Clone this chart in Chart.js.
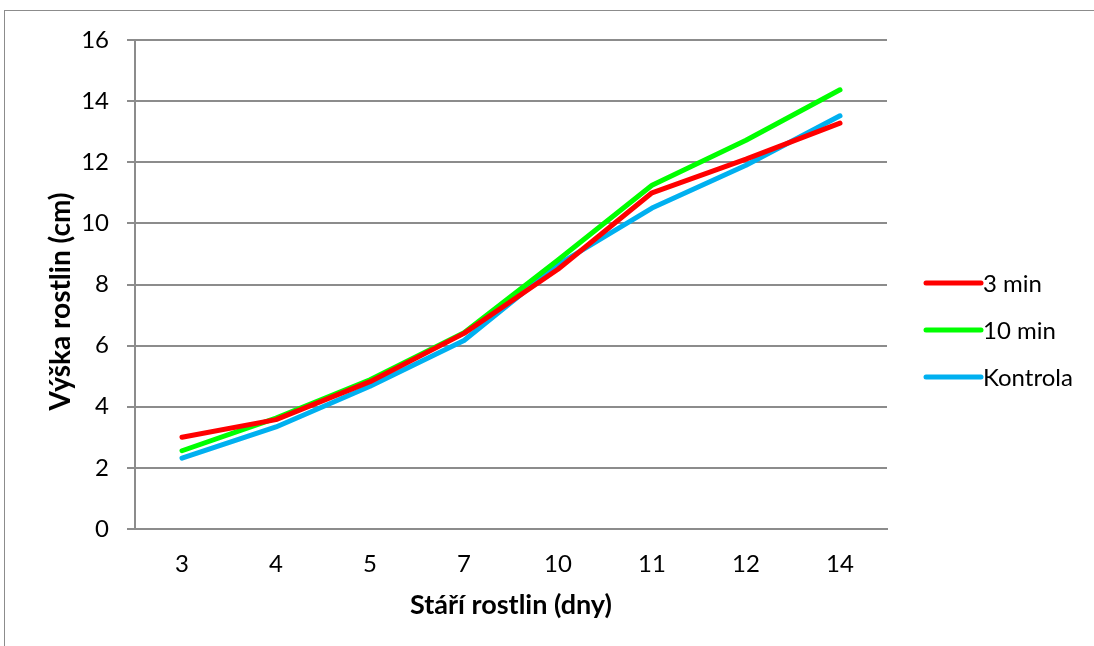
<!DOCTYPE html>
<html>
<head>
<meta charset="utf-8">
<script src="https://cdn.jsdelivr.net/npm/chart.js@4.4.1/dist/chart.umd.min.js"></script>
<style>
  html, body { margin: 0; padding: 0; background: #fff; }
  #wrap { position: relative; width: 1094px; height: 646px; overflow: hidden; }
  #frame { position: absolute; left: 4px; top: 10px; width: 1200px; height: 700px;
           border: 1px solid #8c8c8c; box-sizing: border-box; pointer-events: none; }
  canvas { position: absolute; left: 0; top: 0; }
</style>
</head>
<body>
<div id="wrap">
  <canvas id="c" width="1094" height="646"></canvas>
  <div id="frame"></div>
</div>
<script>
// Plant age in days (categories on the x axis)
const days = ['3', '4', '5', '7', '10', '11', '12', '14'];

// Plant height in cm for each treatment
const min3     = [3.00, 3.58, 4.82, 6.40, 8.50, 11.00, 12.10, 13.28];
const min10    = [2.56, 3.63, 4.88, 6.42, 8.80, 11.25, 12.72, 14.37];
const kontrola = [2.32, 3.34, 4.67, 6.17, 8.65, 10.50, 11.90, 13.52];

// Y axis range and step
const yMin = 0, yMax = 16, yStep = 2;

const seriesNames  = ['3 min', '10 min', 'Kontrola'];
const seriesColors = ['#ff0000', '#00ff00', '#00b0f0'];
const seriesData   = [min3, min10, kontrola];

const FONT = 'Lato, "Liberation Sans", sans-serif';

// Legend on the right: short thick line followed by the series name
const sideLegend = {
  id: 'sideLegend',
  afterDraw(chart) {
    const ctx = chart.ctx;
    const x0 = 926, x1 = 981, top = 283, gap = 47;
    ctx.save();
    chart.data.datasets.forEach((ds, i) => {
      const y = top + i * gap;
      ctx.strokeStyle = ds.borderColor;
      ctx.lineWidth = 5;
      ctx.lineCap = 'round';
      ctx.beginPath();
      ctx.moveTo(x0, y);
      ctx.lineTo(x1, y);
      ctx.stroke();
      ctx.fillStyle = '#000';
      ctx.font = '24px ' + FONT;
      ctx.textBaseline = 'middle';
      ctx.textAlign = 'left';
      ctx.fillText(ds.label, x1 + 2, y + 1);
    });
    ctx.restore();
  }
};

new Chart(document.getElementById('c'), {
  type: 'line',
  data: {
    labels: days,
    datasets: seriesNames.map((name, i) => ({
      label: name,
      data: seriesData[i],
      borderColor: seriesColors[i],
      backgroundColor: seriesColors[i],
      borderWidth: 5,
      pointRadius: 0,
      tension: 0,
      borderCapStyle: 'round',
      borderJoinStyle: 'round',
      fill: false
    }))
  },
  options: {
    responsive: false,
    animation: false,
    layout: { padding: { top: 40, right: 207, bottom: 0, left: 0 } },
    plugins: {
      legend: { display: false },
      tooltip: { enabled: false }
    },
    scales: {
      x: {
        offset: true,
        grid: { display: false },
        border: { display: true, color: '#8c8c8c', width: 2 },
        ticks: { color: '#000', font: { family: FONT, size: 24 }, padding: 13, maxRotation: 0 },
        title: {
          display: true,
          text: 'Stáří rostlin (dny)',
          color: '#000',
          font: { family: FONT, size: 27, weight: 'bold' },
          padding: { top: 0, bottom: 25 }
        },
        afterFit(scale) { scale.height = 117; }
      },
      y: {
        min: yMin,
        max: yMax,
        ticks: { stepSize: yStep, color: '#000', font: { family: FONT, size: 24 }, padding: 18 },
        grid: { color: '#8c8c8c', lineWidth: 2, tickLength: 8 },
        border: { display: true, color: '#8c8c8c', width: 2 },
        title: {
          display: true,
          // trailing no-break spaces nudge the rotated title down a little
          text: 'Výška rostlin (cm)\u00a0\u00a0\u00a0\u00a0\u00a0',
          color: '#000',
          font: { family: FONT, size: 28, weight: 'bold' },
          padding: { top: 44, bottom: 0 }
        },
        afterFit(scale) { scale.width = 135; }
      }
    }
  },
  plugins: [sideLegend]
});
</script>
</body>
</html>
